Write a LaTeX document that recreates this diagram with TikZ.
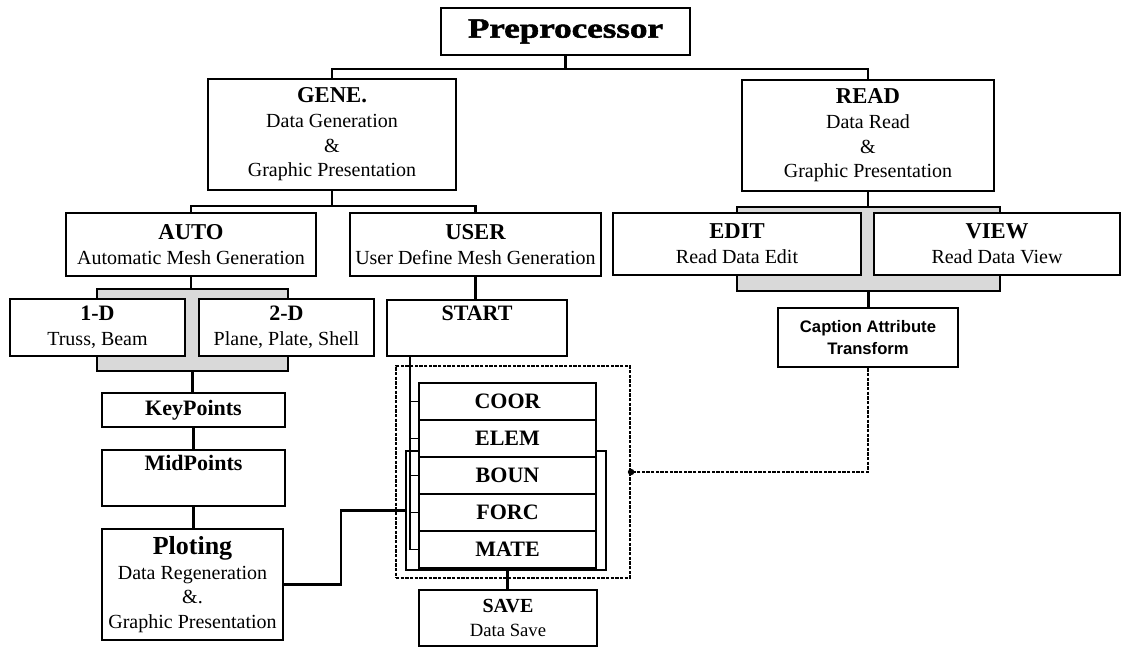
\documentclass[tikz,border=0pt]{standalone}
\usepackage{fontspec}
\usepackage{graphicx}
\setmainfont{Liberation Serif}
\newfontfamily\mycapfont{Liberation Sans}
\newfontfamily\myheavy{Liberation Serif}[BoldFeatures={FakeBold=1.6}]
\newcommand\mytitle{\fontsize{17}{18.5}\selectfont\bfseries}
\newcommand\mysub{\fontsize{15}{18.5}\selectfont}
\newcommand\mystk{\fontsize{16.5}{18.5}\selectfont\bfseries}
\tikzset{
  box/.style={draw, line width=1.9pt, fill=white, inner sep=0pt, align=center, font=\mysub},
  wh/.style n args={2}{minimum width=#1*0.75pt, minimum height=#2*0.75pt},
  brk/.style={draw, line width=1.7pt, fill=black!15, inner sep=0pt},
  conn/.style={line width=1.6pt},
  thinconn/.style={line width=1.2pt},
  dconn/.style={line width=2pt, dash pattern=on 2.5pt off 1pt},
  dframe/.style={draw, line width=1.6pt, dash pattern=on 2.5pt off 1pt, inner sep=0pt},
  sframe/.style={draw, line width=1pt, inner sep=0pt},
  toplbl/.style={anchor=north, font=\mystk, yshift=-3pt, inner sep=2pt}
}
\begin{document}
\begin{tikzpicture}[x=0.75pt, y=-0.75pt]
\useasboundingbox (0,0) rectangle (1122,647);
% brackets and frames (behind boxes)
\node[brk, wh={191}{82}] (abr) at (192.5,330) {};
\node[brk, wh={263}{84}] (rbr) at (868.5,249) {};
\node[dframe, wh={234}{212}] (dbox) at (513,472) {};
\node[sframe, wh={200}{119}] (inframe) at (506,510.5) {};
% boxes
\node[box, wh={249}{47}] (pre) at (565.5,31.5) {\scalebox{1.25}[1]{\myheavy\fontsize{21}{22}\selectfont\bfseries Preprocessor}};
\node[box, wh={248}{111}] (gene) at (332,134.5) {{\mytitle GENE.}\\Data Generation\\\&\\Graphic Presentation};
\node[box, wh={252}{111}] (read) at (868,135.5) {{\mytitle READ}\\Data Read\\\&\\Graphic Presentation};
\node[box, wh={250}{63}] (auto) at (191,244.5) {{\mytitle AUTO}\\Automatic Mesh Generation};
\node[box, wh={251}{63}] (user) at (475.5,244.5) {{\mytitle USER}\\User Define Mesh Generation};
\node[box, wh={248}{62}] (edit) at (737,244) {{\mytitle EDIT}\\Read Data Edit};
\node[box, wh={246}{62}] (view) at (997,244) {{\mytitle VIEW}\\Read Data View};
\node[box, wh={175}{57}] (oned) at (97.5,327.5) {{\mystk 1-D}\\Truss, Beam};
\node[box, wh={175}{57}] (twod) at (286.5,327.5) {{\mystk 2-D}\\Plane, Plate, Shell};
\node[box, wh={180}{56}] (start) at (477,328) {};
\node[toplbl] (startlbl) at (start.north) {START};
\node[box, wh={180}{59}, font=\mycapfont\bfseries\fontsize{12.5}{16}\selectfont] (caption) at (868,337.5) {Caption Attribute\\Transform};
\node[box, wh={183}{34}, font=\mystk] (key) at (193.5,410) {KeyPoints};
\node[box, wh={183}{56}] (mid) at (193.5,478) {};
\node[toplbl] (midlbl) at (mid.north) {MidPoints};
\node[box, wh={181}{111}] (plot) at (192.5,584.5) {{\fontsize{19.5}{20}\selectfont\bfseries Ploting}\\Data Regeneration\\\&.\\Graphic Presentation};
\node[box, wh={177}{37}, font=\mystk] (coor) at (507.5,401.5) {COOR};
\node[box, wh={177}{37}, font=\mystk] (elem) at (507.5,438.5) {ELEM};
\node[box, wh={177}{37}, font=\mystk] (boun) at (507.5,475.5) {BOUN};
\node[box, wh={177}{37}, font=\mystk] (forc) at (507.5,512.5) {FORC};
\node[box, wh={177}{37}, font=\mystk] (mate) at (507.5,549.5) {MATE};
\node[box, wh={178}{56}] (save) at (508,618) {{\fontsize{15}{19}\selectfont\bfseries SAVE}\\{\fontsize{14}{19}\selectfont Data Save}};
% connectors
\coordinate (bus1) at (0,69);
\coordinate (bus2) at (0,206);
\draw[conn] (pre.south) -- (pre.south |- bus1);
\draw[conn] (gene.north) -- (gene.north |- bus1) -- (read.north |- bus1) -- (read.north);
\draw[conn] (gene.south) -- (gene.south |- bus2);
\draw[conn] (auto.north) -- (auto.north |- bus2) -- (user.north |- bus2) -- (user.north);
\draw[conn] (user.south) -- (user.south |- start.north);
\draw[conn] (auto.south) -- (auto.south |- abr.north);
\draw[conn] (abr.south) -- (abr.south |- key.north);
\draw[conn] (key.south) -- (key.south |- mid.north);
\draw[conn] (mid.south) -- (mid.south |- plot.north);
\draw[conn] (read.south) -- (read.south |- rbr.north);
\draw[conn] (rbr.south) -- (rbr.south |- caption.north);
\draw[conn] (plot.east) -- ++(57,0) |- (inframe.west);
\coordinate (tr) at (410,356);
\draw[thinconn] (tr) |- (mate.west);
\foreach \n in {coor,elem,boun,forc} \draw[thinconn] (\n.west -| tr) -- (\n.west);
\draw[conn] (mate.south) -- (mate.south |- save.north);
\draw[dconn] (caption.south) |- (dbox.east);
\fill (dbox.east) circle (2.4pt);
\end{tikzpicture}
\end{document}
